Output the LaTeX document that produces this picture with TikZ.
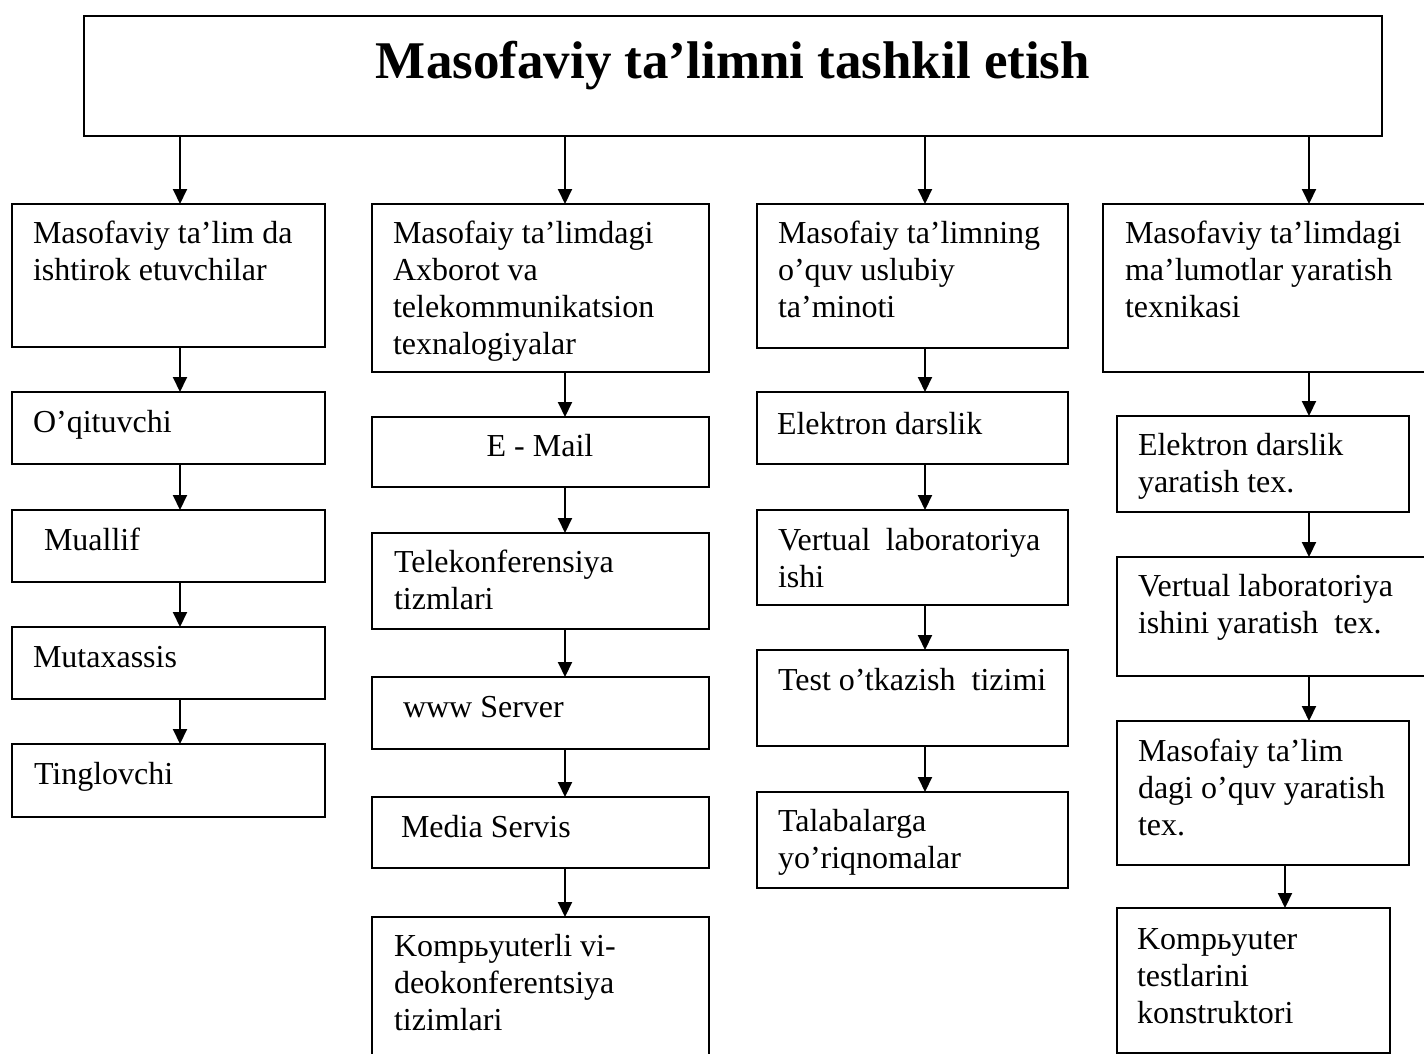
\documentclass[tikz,border=0pt]{standalone}
\usepackage{fontspec}
\setmainfont{Liberation Serif}
\usetikzlibrary{arrows.meta}

\tikzset{
  box/.style={draw=black, line width=2pt, inner sep=0pt, outer sep=0pt},
  txt/.style={inner sep=0pt, outer sep=0pt, align=left, font=\fontsize{32}{37}\selectfont},
  arr/.style={line width=2pt, -{Triangle[width=14pt,length=15pt]}}
}
% box: name, x1, y1, x2, y2 (y grows downwards)
\newcommand\bx[5]{\node[box,anchor=north west,minimum width={(#4-#2)*1pt},minimum height={(#5-#3)*1pt}] (#1) at (#2,#3) {};}
% text block: name, left x, first baseline y, lines
\newcommand\tx[4]{\node[txt,anchor=north west] (#1) at (#2,{#3-25.9}) {\strut #4};}

\begin{document}
\begin{tikzpicture}[x=1pt,y=-1pt]
\path[use as bounding box] (0,0) rectangle (1424,1054);
\begin{scope}
\clip (0,0) rectangle (1424,1054);

% heading
\bx{top}{84}{16}{1382}{136}
\node[inner sep=0pt, anchor=base, font=\fontsize{53}{60}\selectfont\bfseries] (ttl) at (733,79) {Masofaviy ta’limni tashkil etish};

% arrow columns
\coordinate (a1) at (180,0);
\coordinate (a2) at (565,0);
\coordinate (a3) at (925,0);
\coordinate (a4) at (1309,0);
\coordinate (a5) at (1285,0);

% column 1
\bx{c1a}{12}{204}{325}{347}
\bx{c1b}{12}{392}{325}{464}
\bx{c1c}{12}{510}{325}{582}
\bx{c1d}{12}{627}{325}{699}
\bx{c1e}{12}{744}{325}{817}
\tx{t1a}{33}{243}{Masofaviy ta’lim da\\ishtirok etuvchilar}
\tx{t1b}{33}{432}{O’qituvchi}
\tx{t1c}{44}{550}{Muallif}
\tx{t1d}{33}{667}{Mutaxassis}
\tx{t1e}{34}{784}{Tinglovchi}

% column 2
\bx{c2a}{372}{204}{709}{372}
\bx{c2b}{372}{417}{709}{487}
\bx{c2c}{372}{533}{709}{629}
\bx{c2d}{372}{677}{709}{749}
\bx{c2e}{372}{797}{709}{868}
\bx{c2f}{372}{917}{709}{1090}
\tx{t2a}{393}{243}{Masofaiy ta’limdagi\\Axborot va\\telekommunikatsion\\texnalogiyalar}
\node[txt, anchor=base] (t2b) at (540,456) {E - Mail};
\tx{t2c}{394}{572}{Telekonferensiya\\tizmlari}
\tx{t2d}{403}{717}{www Server}
\tx{t2e}{401}{837}{Media Servis}
\tx{t2f}{394}{956}{Kompьyuterli vi-\\deokonferentsiya\\tizimlari}

% column 3
\bx{c3a}{757}{204}{1068}{348}
\bx{c3b}{757}{392}{1068}{464}
\bx{c3c}{757}{510}{1068}{605}
\bx{c3d}{757}{650}{1068}{746}
\bx{c3e}{757}{792}{1068}{888}
\tx{t3a}{778}{243}{Masofaiy ta’limning\\o’quv uslubiy\\ta’minoti}
\tx{t3b}{777}{434}{Elektron darslik}
\tx{t3c}{778}{550}{Vertual\hspace{0.48em}laboratoriya\\ishi}
\tx{t3d}{778}{690}{Test o’tkazish\ \ tizimi}
\tx{t3e}{778}{831}{Talabalarga\\yo’riqnomalar}

% column 4
\bx{c4a}{1103}{204}{1450}{372}
\bx{c4b}{1117}{416}{1409}{512}
\bx{c4c}{1117}{557}{1450}{676}
\bx{c4d}{1117}{721}{1409}{865}
\bx{c4e}{1117}{908}{1390}{1053}
\tx{t4a}{1125}{243}{Masofaviy ta’limdagi\\ma’lumotlar yaratish\\texnikasi}
\tx{t4b}{1138}{455}{Elektron darslik\\yaratish tex.}
\tx{t4c}{1138}{596}{Vertual laboratoriya\\ishini yaratish\ \ tex.}
\tx{t4d}{1138}{761}{Masofaiy ta’lim\\dagi o’quv yaratish\\tex.}
\tx{t4e}{1137}{949}{Kompьyuter\\testlarini\\konstruktori}

% connectors from the heading
\draw[arr] (top.south -| a1) -- (c1a.north -| a1);
\draw[arr] (top.south -| a2) -- (c2a.north -| a2);
\draw[arr] (top.south -| a3) -- (c3a.north -| a3);
\draw[arr] (top.south -| a4) -- (c4a.north -| a4);

% connectors inside the columns
\draw[arr] (c1a.south -| a1) -- (c1b.north -| a1);
\draw[arr] (c1b.south -| a1) -- (c1c.north -| a1);
\draw[arr] (c1c.south -| a1) -- (c1d.north -| a1);
\draw[arr] (c1d.south -| a1) -- (c1e.north -| a1);

\draw[arr] (c2a.south -| a2) -- (c2b.north -| a2);
\draw[arr] (c2b.south -| a2) -- (c2c.north -| a2);
\draw[arr] (c2c.south -| a2) -- (c2d.north -| a2);
\draw[arr] (c2d.south -| a2) -- (c2e.north -| a2);
\draw[arr] (c2e.south -| a2) -- (c2f.north -| a2);

\draw[arr] (c3a.south -| a3) -- (c3b.north -| a3);
\draw[arr] (c3b.south -| a3) -- (c3c.north -| a3);
\draw[arr] (c3c.south -| a3) -- (c3d.north -| a3);
\draw[arr] (c3d.south -| a3) -- (c3e.north -| a3);

\draw[arr] (c4a.south -| a4) -- (c4b.north -| a4);
\draw[arr] (c4b.south -| a4) -- (c4c.north -| a4);
\draw[arr] (c4c.south -| a4) -- (c4d.north -| a4);
\draw[arr] (c4d.south -| a5) -- (c4e.north -| a5);
\end{scope}
\end{tikzpicture}
\end{document}
